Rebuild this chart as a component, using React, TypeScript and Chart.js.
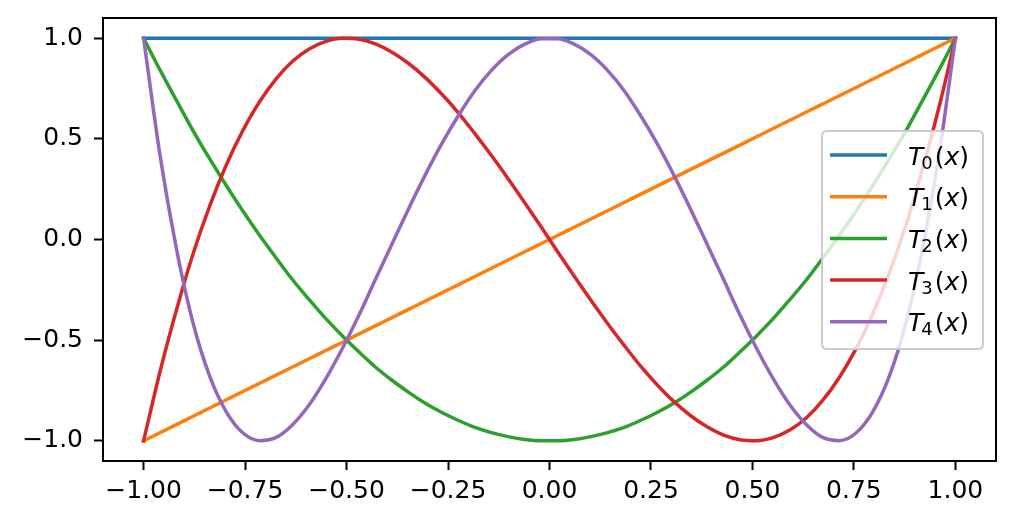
import React, { useEffect, useRef } from "react";
import { Chart, registerables } from "chart.js";

Chart.register(...registerables);

const xs = [
  -1, -0.959, -0.918, -0.878, -0.837, -0.796, -0.755, -0.714, -0.673, -0.633,
  -0.592, -0.551, -0.51, -0.469, -0.429, -0.388, -0.347, -0.306, -0.265, -0.224,
  -0.184, -0.143, -0.102, -0.061, -0.02, 0.02, 0.061, 0.102, 0.143, 0.184,
  0.224, 0.265, 0.306, 0.347, 0.388, 0.429, 0.469, 0.51, 0.551, 0.592,
  0.633, 0.673, 0.714, 0.755, 0.796, 0.837, 0.878, 0.918, 0.959, 1,
];

const t0 = [
  1, 1, 1, 1, 1, 1, 1, 1, 1, 1, 1, 1, 1, 1, 1, 1, 1, 1, 1, 1, 1, 1, 1, 1, 1,
  1, 1, 1, 1, 1, 1, 1, 1, 1, 1, 1, 1, 1, 1, 1, 1, 1, 1, 1, 1, 1, 1, 1, 1, 1,
];

const t1 = [
  -1, -0.959, -0.918, -0.878, -0.837, -0.796, -0.755, -0.714, -0.673, -0.633,
  -0.592, -0.551, -0.51, -0.469, -0.429, -0.388, -0.347, -0.306, -0.265, -0.224,
  -0.184, -0.143, -0.102, -0.061, -0.02, 0.02, 0.061, 0.102, 0.143, 0.184,
  0.224, 0.265, 0.306, 0.347, 0.388, 0.429, 0.469, 0.51, 0.551, 0.592,
  0.633, 0.673, 0.714, 0.755, 0.796, 0.837, 0.878, 0.918, 0.959, 1,
];

const t2 = [
  1, 0.84, 0.687, 0.54, 0.4, 0.267, 0.14, 0.02, -0.093, -0.2,
  -0.299, -0.393, -0.479, -0.559, -0.633, -0.699, -0.759, -0.813, -0.859, -0.899,
  -0.933, -0.959, -0.979, -0.993, -0.999, -0.999, -0.993, -0.979, -0.959, -0.933,
  -0.899, -0.859, -0.813, -0.759, -0.699, -0.633, -0.559, -0.479, -0.393, -0.299,
  -0.2, -0.093, 0.02, 0.14, 0.267, 0.4, 0.54, 0.687, 0.84, 1,
];

const t3 = [
  -1, -0.652, -0.343, -0.071, 0.167, 0.371, 0.543, 0.685, 0.799, 0.885,
  0.946, 0.984, 0.999, 0.994, 0.971, 0.93, 0.874, 0.804, 0.721, 0.628,
  0.526, 0.417, 0.302, 0.183, 0.061, -0.061, -0.183, -0.302, -0.417, -0.526,
  -0.628, -0.721, -0.804, -0.874, -0.93, -0.971, -0.994, -0.999, -0.984, -0.946,
  -0.885, -0.799, -0.685, -0.543, -0.371, -0.167, 0.071, 0.343, 0.652, 1,
];

const t4 = [
  1, 0.411, -0.057, -0.416, -0.68, -0.857, -0.961, -0.999, -0.983, -0.92,
  -0.821, -0.691, -0.54, -0.374, -0.199, -0.022, 0.153, 0.321, 0.477, 0.617,
  0.739, 0.84, 0.918, 0.97, 0.997, 0.997, 0.97, 0.918, 0.84, 0.739,
  0.617, 0.477, 0.321, 0.153, -0.022, -0.199, -0.374, -0.54, -0.691, -0.821,
  -0.92, -0.983, -0.999, -0.961, -0.857, -0.68, -0.416, -0.057, 0.411, 1,
];

const seriesValues = [t0, t1, t2, t3, t4];
const seriesSubscripts = ["0", "1", "2", "3", "4"];
const seriesColors = ["#1f77b4", "#ff7f0e", "#2ca02c", "#d62728", "#9467bd"];

const xTicks = [-1, -0.75, -0.5, -0.25, 0, 0.25, 0.5, 0.75, 1];
const xTickLabels = ["−1.00", "−0.75", "−0.50", "−0.25", "0.00", "0.25", "0.50", "0.75", "1.00"];
const yTicks = [-1, -0.5, 0, 0.5, 1];
const yTickLabels = ["−1.0", "−0.5", "0.0", "0.5", "1.0"];

const FONT = "'DejaVu Sans', 'Liberation Sans', sans-serif";

function labelFor(ticks: number[], labels: string[], v: number): string {
  const i = ticks.findIndex((t) => Math.abs(t - v) < 1e-9);
  return i >= 0 ? labels[i] : "";
}

const framePlugin = {
  id: "frameAndLegend",
  afterDatasetsDraw(chart: any) {
    const ctx = chart.ctx as CanvasRenderingContext2D;
    const a = chart.chartArea;
    ctx.save();
    ctx.strokeStyle = "#000";
    ctx.lineWidth = 2;
    ctx.strokeRect(a.left, a.top, a.right - a.left, a.bottom - a.top);

    // legend
    const bx = 822, by = 131, bw = 161, bh = 218, r = 5;
    ctx.beginPath();
    ctx.moveTo(bx + r, by);
    ctx.lineTo(bx + bw - r, by);
    ctx.quadraticCurveTo(bx + bw, by, bx + bw, by + r);
    ctx.lineTo(bx + bw, by + bh - r);
    ctx.quadraticCurveTo(bx + bw, by + bh, bx + bw - r, by + bh);
    ctx.lineTo(bx + r, by + bh);
    ctx.quadraticCurveTo(bx, by + bh, bx, by + bh - r);
    ctx.lineTo(bx, by + r);
    ctx.quadraticCurveTo(bx, by, bx + r, by);
    ctx.closePath();
    ctx.fillStyle = "rgba(255,255,255,0.8)";
    ctx.fill();
    ctx.strokeStyle = "#cccccc";
    ctx.lineWidth = 2;
    ctx.stroke();

    const datasets = chart.data.datasets;
    for (let i = 0; i < datasets.length; i++) {
      const y = 155 + i * 41.7;
      ctx.strokeStyle = datasets[i].borderColor;
      ctx.lineWidth = 3.5;
      ctx.lineCap = "butt";
      ctx.beginPath();
      ctx.moveTo(830, y);
      ctx.lineTo(887, y);
      ctx.stroke();

      const base = y + 9.5;
      let x = 908;
      ctx.fillStyle = "#000";
      ctx.textBaseline = "alphabetic";
      ctx.textAlign = "left";
      ctx.font = `italic 25px ${FONT}`;
      ctx.fillText("T", x, base);
      x += ctx.measureText("T").width - 2;
      ctx.font = `18px ${FONT}`;
      ctx.fillText(datasets[i].sub, x, base + 4);
      x += ctx.measureText(datasets[i].sub).width + 2;
      ctx.font = `25px ${FONT}`;
      ctx.fillText("(", x, base);
      x += ctx.measureText("(").width;
      ctx.font = `italic 25px ${FONT}`;
      ctx.fillText("x", x, base);
      x += ctx.measureText("x").width;
      ctx.font = `25px ${FONT}`;
      ctx.fillText(")", x, base);
    }
    ctx.restore();
  },
};

export default function App() {
  const ref = useRef<HTMLCanvasElement | null>(null);

  useEffect(() => {
    document.body.style.margin = "0";
    const canvas = ref.current;
    if (!canvas) return;

    const datasets = seriesValues.map((vals, i) => ({
      label: `T${seriesSubscripts[i]}(x)`,
      sub: seriesSubscripts[i],
      data: xs.map((x, j) => ({ x, y: vals[j] })),
      borderColor: seriesColors[i],
      backgroundColor: seriesColors[i],
      borderWidth: 3.5,
      pointRadius: 0,
      cubicInterpolationMode: "monotone",
      fill: false,
      borderCapStyle: "square",
      borderJoinStyle: "round",
      order: seriesValues.length - i,
    }));

    const chart = new Chart(canvas, {
      type: "line",
      data: { datasets: datasets as any },
      options: {
        animation: false,
        responsive: false,
        devicePixelRatio: 1,
        layout: { padding: { top: 18, right: 18, left: 0, bottom: 0 } },
        plugins: { legend: { display: false }, tooltip: { enabled: false } },
        scales: {
          x: {
            type: "linear",
            min: -1.1,
            max: 1.1,
            afterBuildTicks: (s: any) => {
              s.ticks = xTicks.map((v) => ({ value: v }));
            },
            afterFit: (s: any) => {
              s.height = 65;
              s.paddingLeft = 0;
              s.paddingRight = 0;
            },
            ticks: {
              autoSkip: false,
              maxRotation: 0,
              minRotation: 0,
              padding: 6,
              color: "#000",
              font: { family: FONT, size: 25 },
              callback: (v: any) => labelFor(xTicks, xTickLabels, Number(v)),
            },
            grid: {
              display: true,
              drawOnChartArea: false,
              drawTicks: true,
              tickLength: 9,
              tickWidth: 2,
              tickColor: "#000",
            },
            border: { display: false },
          },
          y: {
            type: "linear",
            min: -1.1,
            max: 1.1,
            afterBuildTicks: (s: any) => {
              s.ticks = yTicks.map((v) => ({ value: v }));
            },
            afterFit: (s: any) => {
              s.width = 103;
              s.paddingTop = 0;
              s.paddingBottom = 0;
            },
            ticks: {
              autoSkip: false,
              padding: 11,
              color: "#000",
              font: { family: FONT, size: 25 },
              callback: (v: any) => labelFor(yTicks, yTickLabels, Number(v)),
            },
            grid: {
              display: true,
              drawOnChartArea: false,
              drawTicks: true,
              tickLength: 9,
              tickWidth: 2,
              tickColor: "#000",
            },
            border: { display: false },
          },
        },
      },
      plugins: [framePlugin],
    });

    return () => chart.destroy();
  }, []);

  return (
    <div style={{ width: 1014, height: 526 }}>
      <canvas ref={ref} width={1014} height={526} style={{ display: "block" }} />
    </div>
  );
}
